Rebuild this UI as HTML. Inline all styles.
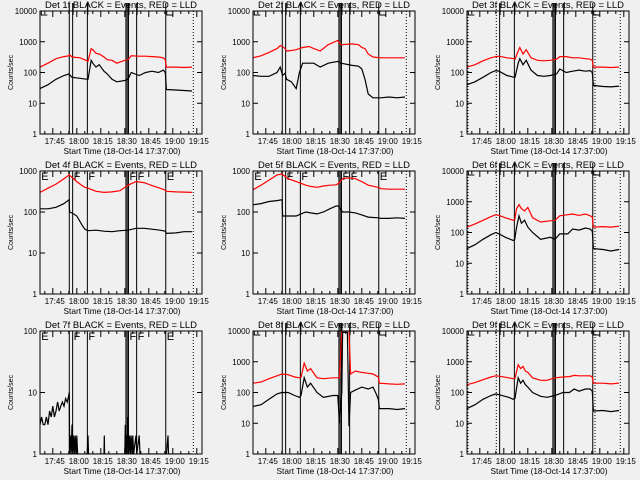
<!DOCTYPE html>
<html><head><meta charset="utf-8"><style>
html,body{margin:0;padding:0;background:#f0f0f0;}
svg{display:block;font-family:"Liberation Sans",sans-serif;}
</style></head><body>
<svg id="chart" width="640" height="480" viewBox="0 0 640 480" xmlns="http://www.w3.org/2000/svg">
<rect width="640" height="480" fill="#f0f0f0"/>
</svg>
<script>
// time in minutes after 17:37:00
const tickLabels = ["17:45","18:00","18:15","18:30","18:45","19:00","19:15"];
const tickMinutes = [8,23,38,53,68,83,98];
const panelNames = ["1f","2f","3f","4f","5f","6f","7f","8f","9f"];
const panelMaxDecade = [4,4,4,3,3,4,2,4,4];

const t1 = [0,5,10,15,18,18.5,20,25,29.5,30,32,33,35,37,40,42,45,48,53,55,57,62,66,70,74,77,78.3,79,85,90,95];
const b1 = [30,40,60,80,90,85,70,65,60,60,250,200,150,180,110,90,60,50,55,60,100,80,100,110,100,120,100,28,27,26,25];
const r1 = [150,200,280,330,350,380,320,300,240,230,600,550,420,400,320,260,250,200,250,260,350,340,340,330,320,300,260,150,150,145,150];

const t2 = [0,5,10,15,17,18.5,20,21,24,27,29,31,35,38,42,47,53,55,62,66,68,70,72,75,80,85,90,95];
const b2 = [80,75,75,100,150,80,95,60,50,30,100,200,200,200,150,200,230,200,170,160,130,60,20,15,15,16,15,16];
const r2 = [300,350,450,600,750,700,600,500,520,550,600,650,700,600,500,800,1100,800,850,800,650,600,400,320,300,300,300,300];

const t3 = [0,5,10,15,18,20,25,29.5,30,32,33,35,37,40,44,48,52,56,58,62,66,70,74,77,78.3,79,85,90,95];
const b3 = [40,50,70,100,115,110,80,70,70,200,280,180,250,120,80,75,80,90,130,100,110,120,110,115,100,38,35,34,36];
const r3 = [150,180,240,300,330,340,300,280,270,500,650,400,550,300,250,240,250,270,330,330,300,300,280,270,250,150,150,145,150];

const t4 = [0,5,10,15,18.2,18.5,20,23,26,28,30,35,40,45,50,55,60,65,70,75,78.3,79,85,90,95];
const b4 = [120,120,130,160,200,100,95,80,50,38,35,36,34,33,35,36,40,40,38,36,34,30,31,33,33];
const r4 = [300,380,480,650,800,780,700,550,450,400,380,320,300,310,330,450,550,520,440,380,340,320,310,305,300];

const t5 = [0,5,10,15,18.2,18.5,22,27,30,33,36,40,44,48,52,53.5,56,60,64,68,72,78,80,85,90,95];
const b5 = [150,160,180,190,200,80,80,80,90,100,95,90,100,120,140,140,100,100,95,85,75,72,70,70,72,70];
const r5 = [350,450,600,800,850,820,650,550,500,450,420,400,430,450,460,500,650,680,650,550,450,400,370,360,360,360];

const t6 = [0,5,10,15,18,20,24,29,29.8,31,32.5,34,36,38,41,46,52,55,58,63,66,70,74,77,78.3,79,85,90,95];
const b6 = [30,40,60,85,100,90,70,55,60,150,350,200,250,150,100,60,70,60,90,90,130,120,140,130,110,30,28,25,28];
const r6 = [150,190,250,330,380,360,300,250,260,600,800,600,500,650,300,220,240,250,350,380,400,360,400,350,320,150,155,150,160];

const t7 = [0,1,2,3,4,5,6,7,8,9,10,11,12,13,14,15,16,17,18,18.3,18.5,19,19.5,20,20.5,21,21.5,22,22.5,23,23.5,29.5,30,30.3,40,40.2,40.4,53,53.3,53.6,54,54.5,55,55.5,56,56.5,57,57.5,58,58.5,60,60.5,62,62.5,79,80,80.3,95];
const b7 = [3,4,3,3,4,3,5,4,6,4,5,7,5,6,7,6,8,7,9,10,1,2,1,3,1,2,1,2,1,2,1,1,2,1,1,2,1,1,3,1,2,1,4,1,2,1,2,1,2,1,2,1,2,1,1,2,1,1];
const r7 = [];

const t8 = [0,5,10,15,18,22,26,29,30,32,34,36,40,44,50,53,54,55.5,56,59,60,61,64,68,72,75,77,78.3,79,85,90,95];
const b8 = [35,40,60,90,100,100,80,70,80,300,150,200,100,70,80,80,10,100,9000,9000,8,100,120,150,130,150,90,60,30,30,28,30];
const r8 = [200,220,280,350,400,380,320,300,310,900,500,600,300,280,300,300,300,10000,10000,10000,10000,400,500,450,420,400,350,320,200,190,185,190];

const t9 = [0,5,10,15,18,20,26,29,30,32,33.5,35,36.5,38,41,46,50,55,60,64,67,70,74,77,78.3,79,85,90,95];
const b9 = [30,40,60,80,90,85,70,60,65,300,200,250,180,150,100,75,70,80,100,100,130,110,130,130,110,25,26,24,26];
const r9 = [180,210,260,320,350,340,300,280,290,800,600,700,500,450,300,250,250,300,320,330,360,350,350,350,320,200,200,190,200];

const seriesT = [t1,t2,t3,t4,t5,t6,t7,t8,t9];
const seriesB = [b1,b2,b3,b4,b5,b6,b7,b8,b9];
const seriesR = [r1,r2,r3,r4,r5,r6,r7,r8,r9];

const markerTimes = [18.3,20.4,29.6,53.7,54.5,55.3,60.4,78.6];
const dottedTime = 95.8;
const letterTimes = [0.8,21.0,30.2,55.9,61.0,79.2];
const letterText = ["E","F","F","F","F","E"];

const NS = "http://www.w3.org/2000/svg";
const svg = document.getElementById("chart");
function mk(tag, attrs, parent){ const e=document.createElementNS(NS,tag); for(const k in attrs) e.setAttribute(k,attrs[k]); (parent||svg).appendChild(e); return e; }

const PL=40, PT=11, PW=162, PH=123, TMAX=101.25;
for(let p=0;p<9;p++){
  const ox = Math.round((p%3)*213.33), oy = Math.floor(p/3)*160;
  const g = mk("g",{transform:`translate(${ox},${oy})`});
  
  
  const maxD = panelMaxDecade[p];
  const xs = t => PL + t/TMAX*PW;
  const ys = v => { const lv=Math.log10(Math.max(v,1)); return PT+PH - Math.min(lv,maxD)/maxD*PH; };
  const clipId="clip"+p;
  const cp = mk("clipPath",{id:clipId},g); mk("rect",{x:PL,y:PT,width:PW,height:PH},cp);
  const title = mk("text",{x:PL+PW/2,y:8,"font-size":"9","text-anchor":"middle",textLength:"152",lengthAdjust:"spacingAndGlyphs",fill:"#000"},g);
  title.textContent = "Det "+panelNames[p]+" BLACK = Events, RED = LLD";
  
  
  const yl = mk("text",{x:0,y:0,"font-size":"7","text-anchor":"middle",transform:`translate(13,${PT+PH/2}) rotate(-90)`,fill:"#000"},g);
  yl.textContent="Counts/sec";
  
  
  const xt = mk("text",{x:PL+PW/2+1,y:154,"font-size":"8.5","text-anchor":"middle",textLength:"117",lengthAdjust:"spacingAndGlyphs",fill:"#000"},g);
  xt.textContent="Start Time (18-Oct-14 17:37:00)";
  
  
  for(let d=0; d<=maxD; d++){
    const y = ys(Math.pow(10,d));
    mk("line",{x1:PL,y1:y,x2:PL+5,y2:y,stroke:"#000","stroke-width":"1"},g);
    mk("line",{x1:PL+PW,y1:y,x2:PL+PW-5,y2:y,stroke:"#000","stroke-width":"1"},g);
    const lab = mk("text",{x:PL-3,y:y+3,"font-size":"8","text-anchor":"end",fill:"#000"},g);
    lab.textContent = String(Math.pow(10,d));
    
    
  }
  for(let m=3;m<TMAX;m+=5){
    const x=xs(m), major = ((m-8)%15===0);
    const L = major?6:3;
    mk("line",{x1:x,y1:PT+PH,x2:x,y2:PT+PH-L,stroke:"#000","stroke-width":"1"},g);
    mk("line",{x1:x,y1:PT,x2:x,y2:PT+L,stroke:"#000","stroke-width":"1"},g);
  }
  for(let i=0;i<tickLabels.length;i++){
    const lab = mk("text",{x:xs(tickMinutes[i])+2,y:PT+PH+10,"font-size":"8","text-anchor":"middle",fill:"#000"},g);
    lab.textContent = tickLabels[i];
    
    
  }
  const col = p%3;
  markerTimes.forEach((mt,i)=>{
    const x=xs(mt);
    const dotted = (col===2 && i===0);
    const ln = mk("line",{x1:x,y1:maxD===4?3:PT,x2:x,y2:PT+PH,stroke:"#000","stroke-width":"1","stroke-dasharray":dotted?"1,2":"none"},g);
    
    
  });
  if(col===2){ mk("line",{x1:xs(0.6),y1:PT,x2:xs(0.6),y2:PT+PH,stroke:"#000","stroke-dasharray":"1,2"},g);
               mk("line",{x1:xs(80),y1:PT,x2:xs(80),y2:PT+PH,stroke:"#000","stroke-dasharray":"1,2"},g); }
  mk("line",{x1:xs(dottedTime),y1:PT,x2:xs(dottedTime),y2:PT+PH,stroke:"#000","stroke-dasharray":"1,2"},g);
  letterTimes.forEach((lt,i)=>{
    if(maxD===4){
      if(letterText[i]==="E"){ mk("path",{d:`M${xs(lt)} ${PT} V${PT+4} H${xs(lt)+6}`,stroke:"#000",fill:"none"},g); }
      else { mk("line",{x1:xs(lt)-0.5,y1:3,x2:xs(lt)-0.5,y2:PT+4,stroke:"#000"},g); }
    } else {
      const tx = mk("text",{x:xs(lt),y:PT+9,"font-size":"11",fill:"#000"},g);
      tx.textContent = letterText[i];
      
      
    }
  });
  const gs = mk("g",{"clip-path":`url(#${clipId})`},g);
  const T = seriesT[p];
  function line(vals,color,name){
    if(!vals.length) return;
    let d="";
    for(let i=0;i<vals.length;i++){ d += (i?"L":"M")+xs(T[i]).toFixed(1)+" "+ys(vals[i]).toFixed(1); }
    const pth = mk("path",{d:d,fill:"none",stroke:color,"stroke-width":"1.2"},gs);
    
    
  }
  line(seriesR[p],"#ff0000","lld-series");
  line(seriesB[p],"#000000","events-series");
  const fr = mk("rect",{x:PL,y:PT,width:PW,height:PH,fill:"none",stroke:"#000","stroke-width":"1"},g);
  
  
}
</script>
</body></html>
